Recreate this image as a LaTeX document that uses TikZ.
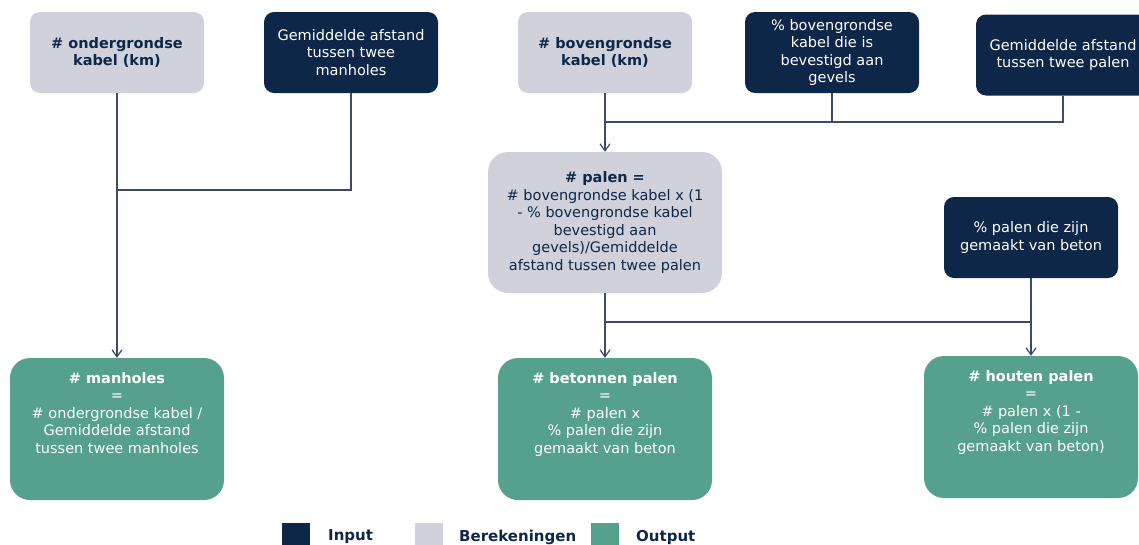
\documentclass[tikz,border=0pt]{standalone}
\usepackage{fontspec}
\setmainfont{DejaVu Sans}
\usetikzlibrary{positioning,arrows.meta}

\definecolor{inputblue}{HTML}{0E2748}
\definecolor{calcgray}{HTML}{D0D1DB}
\definecolor{outgreen}{HTML}{55A18D}
\definecolor{linkblue}{HTML}{3B4A6B}

\tikzset{
  box/.style={rounded corners=10pt, minimum width=174pt, minimum height=81pt,
    inner sep=0pt, align=center, font=\fontsize{14.5}{17.5}\selectfont},
  inbox/.style={box, fill=inputblue, text=white},
  calcbox/.style={box, fill=calcgray, text=inputblue},
  outbox/.style={box, fill=outgreen, rounded corners=20pt,
    minimum width=214pt, minimum height=142pt},
  outtext/.style={anchor=north, inner sep=0pt, align=center, text=white,
    font=\fontsize{14.5}{17.5}\selectfont},
  legendsq/.style={fill=#1, minimum size=28pt, inner sep=0pt},
  legendtext/.style={anchor=west, inner sep=0pt, text=inputblue,
    font=\fontsize{15}{17}\selectfont\bfseries},
  link/.style={draw=linkblue, line width=1.2pt},
  arrow/.style={link, -{Straight Barb[length=7pt,width=10pt]}},
}

\begin{document}
\begin{tikzpicture}[x=1pt, y=-1pt]

    % Fix the size of the picture
    \useasboundingbox (0,0) rectangle (1139,544);

    % Input and calculation boxes on top
    \node[calcbox] (ondkabel) at (117,52.5) {\textbf{\# ondergrondse}\\\textbf{kabel (km)}};
    \node[inbox] (afstmanh) at (351,52.5) {Gemiddelde afstand\\tussen twee\\manholes};
    \node[calcbox] (bovkabel) at (605,52.5) {\textbf{\# bovengrondse}\\\textbf{kabel (km)}};
    \node[inbox] (pctgevel) at (832,52.5) {\% bovengrondse\\kabel die is\\bevestigd aan\\gevels};
    \node[inbox] (afstpalen) at (1063,55) {Gemiddelde afstand\\tussen twee palen};

    % Middle row
    \node[calcbox, rounded corners=20pt, minimum width=234pt, minimum height=141pt]
        (palen) at (605,222.5) {\textbf{\# palen =}\\\# bovengrondse kabel x (1\\- \% bovengrondse kabel\\bevestigd aan\\gevels)/Gemiddelde\\afstand tussen twee palen};
    \node[inbox] (pctbeton) at (1031,237.5) {\% palen die zijn\\gemaakt van beton};

    % Output boxes
    \node[outbox] (manholes) at (117,429) {};
    \node[outbox] (betonpalen) at (605,429) {};
    \node[outbox] (houtpalen) at (1031,427) {};

    % Text in the output boxes, from the top
    \node[outtext] (manholestext) at ([yshift=-14pt]manholes.north)
        {\textbf{\# manholes}\\=\\\# ondergrondse kabel /\\Gemiddelde afstand\\tussen twee manholes};
    \node[outtext] (betonpalentext) at ([yshift=-14pt]betonpalen.north)
        {\textbf{\# betonnen palen}\\=\\\# palen x\\\% palen die zijn\\gemaakt van beton};
    \node[outtext] (houtpalentext) at ([yshift=-14pt]houtpalen.north)
        {\textbf{\# houten palen}\\=\\\# palen x (1 -\\\% palen die zijn\\gemaakt van beton)};

    % Junctions of the lines
    \coordinate (joinmanh) at (117,190);
    \coordinate (joinbov) at (605,122);
    \coordinate (joinpalen) at (605,322);

    % Left column
    \draw[arrow] (ondkabel.south) -- (manholes.north);
    \draw[link] (afstmanh.south) |- (joinmanh);

    % Top right
    \draw[arrow] (bovkabel.south) -- (palen.north);
    \draw[link] (pctgevel.south) |- (joinbov);
    \draw[link] (afstpalen.south) |- (joinbov);

    % Bottom right
    \draw[arrow] (palen.south) -- (betonpalen.north);
    \draw[arrow] (pctbeton.south) -- (houtpalen.north);
    \draw[link] (joinpalen) -- (joinpalen -| pctbeton.south);

    % Legend
    \node[legendsq=inputblue] (leginput) at (296,537) {};
    \node[legendtext] (leginputtext) at (328,537) {Input};
    \node[legendsq=calcgray] (legcalc) at (429,537) {};
    \node[legendtext] (legcalctext) at (459,537) {Berekeningen};
    \node[legendsq=outgreen] (legout) at (605,537) {};
    \node[legendtext] (legouttext) at (636,537) {Output};

\end{tikzpicture}
\end{document}
